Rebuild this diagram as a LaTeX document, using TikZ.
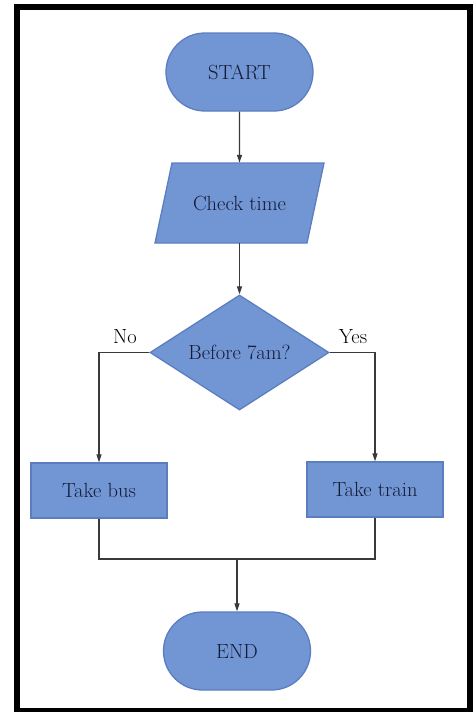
\documentclass[tikz,border=0pt]{standalone}
\usepackage{fontspec}
\setmainfont{Latin Modern Roman}
\usetikzlibrary{shapes.geometric,shapes.misc,arrows.meta}
\definecolor{nodefill}{HTML}{7296D4}
\definecolor{nodeedge}{HTML}{5A7EC0}
\definecolor{nodetext}{HTML}{141B36}
\definecolor{linecol}{HTML}{3A3A3A}
\begin{document}
\begin{tikzpicture}[x=1pt,y=-1pt,
  base/.style={fill=nodefill,draw=nodeedge,line width=1.3pt,text=nodetext,
    font=\fontsize{20.5}{23}\selectfont,inner sep=0pt},
  term/.style={base,rounded rectangle,minimum width=147pt,minimum height=78pt},
  iotext/.style={text=nodetext,font=\fontsize{20.5}{23}\selectfont,inner sep=0pt,
    minimum width=150pt,minimum height=80pt},
  iobox/.style={fill=nodefill,draw=nodeedge,line width=1.3pt},
  decision/.style={base,diamond,aspect=1.55,minimum width=179pt,minimum height=115pt},
  proc/.style={base,rectangle,minimum width=136pt,minimum height=55pt},
  conn/.style={draw=linecol,line width=1.1pt},
  arr/.style={conn,-{Triangle[length=8pt,width=5pt]}},
  lbl/.style={text=black,font=\fontsize{20.5}{23}\selectfont,inner sep=0pt}]
\useasboundingbox (0,0) rectangle (473,712);
\fill[white] (0,0) rectangle (473,712);
\draw[line width=6pt] (17,7) rectangle (469.5,711);

\node[term] (start) at (239.5,72) {START};
\draw[iobox] (172,163) -- (324,163) -- (307,243) -- (155,243) -- cycle;
\node[iotext] (check) at (239.5,203) {Check time};
\node[decision] (dec) at (239.5,352.5) {Before 7am?};
\node[proc] (bus) at (99,490.5) {Take bus};
\node[proc] (train) at (375,489.5) {Take train};
\node[term] (end) at (237,651) {END};

\node[lbl] (no) at (125,337) {No};
\node[lbl] (yes) at (353,337) {Yes};

\coordinate (join) at (237,559);

\draw[arr] (start) -- (check);
\draw[arr] (check) -- (dec);
\draw[arr] (dec.west) -| (bus.north);
\draw[arr] (dec.east) -| (train.north);
\draw[conn] (bus.south) -- (bus.south |- join) -- (train.south |- join) -- (train.south);
\draw[arr] (join) -- (end);
\end{tikzpicture}
\end{document}
